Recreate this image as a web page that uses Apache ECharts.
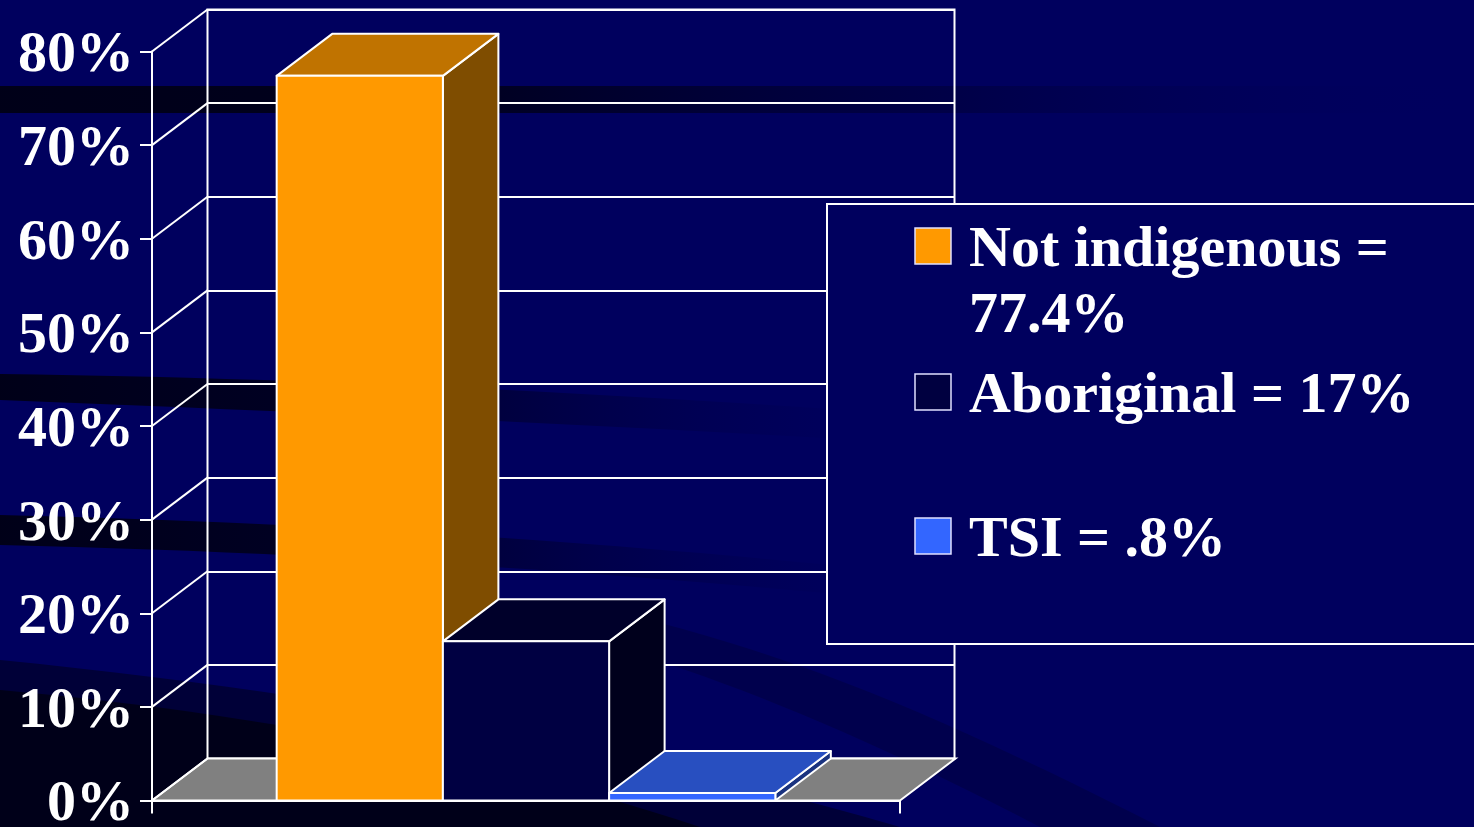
<!DOCTYPE html>
<html>
<head>
<meta charset="utf-8">
<script src="https://cdn.jsdelivr.net/npm/echarts@6/dist/echarts.min.js"></script>
<style>
html,body{margin:0;padding:0;background:#00005e;}
#chart{width:1474px;height:827px;}
</style>
</head>
<body>
<div id="chart"></div>
<script>
// ---- data ----
const categories = [''];
const seriesNames = ['Not indigenous', 'Aboriginal', 'TSI'];
const seriesValues = [77.4, 17, 0.8];
const yTickValues = [0, 10, 20, 30, 40, 50, 60, 70, 80];

// ---- style / layout ----
const FONT = 'Liberation Serif';
const DX = 55.5, DY = -42;
const GAP = 1.5;
const faceColors = [
  { front: '#ff9900', top: '#c07300', side: '#7f4d00', swatch: '#ff9900' },
  { front: '#000042', top: '#00002a', side: '#00001c', swatch: '#000040' },
  { front: '#3366ff', top: '#284fc0', side: '#1a3380', swatch: '#3366ff' }
];
const front = { left: 152, top: 51.5, width: 748, height: 749 };
const back = { left: front.left + DX, top: front.top + DY, width: 747, height: 749 };

const fmt = v => String(v).replace(/^0\./, '.') + '%';

const chart = echarts.init(document.getElementById('chart'));

function fade(stops) {
  return new echarts.graphic.LinearGradient(0, 0, 1, 0, stops);
}
// sample a cubic bezier into points (decorative background shapes)
function bez(p0, p1, p2, p3, n) {
  const pts = [];
  for (let k = 0; k <= n; k++) {
    const t = k / n, u = 1 - t;
    pts.push([
      u*u*u*p0[0] + 3*u*u*t*p1[0] + 3*u*t*t*p2[0] + t*t*t*p3[0],
      u*u*u*p0[1] + 3*u*u*t*p1[1] + 3*u*t*t*p2[1] + t*t*t*p3[1]
    ]);
  }
  return pts;
}
function band(a, b) {
  return bez(a[0], a[1], a[2], a[3], 24).concat(bez(b[3], b[2], b[1], b[0], 24));
}

const bgElements = [
  { type: 'rect', z: -20, shape: { x: 0, y: 86, width: 1474, height: 27 },
    style: { fill: fade([{offset:0,color:'rgba(0,0,22,0.97)'},{offset:0.3,color:'rgba(0,0,22,0.9)'},{offset:0.65,color:'rgba(0,0,50,0.5)'},{offset:1,color:'rgba(0,0,94,0)'}]) } },
  { type: 'polygon', z: -20,
    shape: { points: band([[0,374],[300,378],[600,392],[960,418]], [[0,400],[300,412],[600,424],[960,446]]) },
    style: { fill: fade([{offset:0,color:'rgba(0,0,22,0.97)'},{offset:0.35,color:'rgba(0,0,22,0.8)'},{offset:1,color:'rgba(0,0,94,0)'}]) } },
  { type: 'polygon', z: -20,
    shape: { points: band([[0,515],[300,522],[600,540],[960,578]], [[0,545],[300,552],[600,570],[960,606]]) },
    style: { fill: fade([{offset:0,color:'rgba(0,0,22,0.97)'},{offset:0.35,color:'rgba(0,0,22,0.8)'},{offset:1,color:'rgba(0,0,94,0)'}]) } },
  { type: 'polygon', z: -20,
    shape: { points: bez([0,660],[300,690],[600,740],[900,827],24).concat([[0,827]]) },
    style: { fill: 'rgba(0,0,40,0.7)' } },
  { type: 'polygon', z: -19,
    shape: { points: bez([0,690],[250,712],[500,760],[700,827],24).concat([[0,827]]) },
    style: { fill: 'rgba(0,0,20,0.85)' } },
  { type: 'polygon', z: -20,
    shape: { points: band([[560,600],[760,640],[920,705],[1160,827]], [[560,632],[700,668],[850,728],[1040,827]]) },
    style: { fill: 'rgba(0,0,45,0.35)' } }
];

// legend
const LFS = 58;
const legendItemTop = [218, 364, 508];
const legendElements = [
  { type: 'rect', z: 50, shape: { x: 827, y: 204, width: 700, height: 440 },
    style: { fill: '#00005e', stroke: '#ffffff', lineWidth: 2 } }
];
seriesNames.forEach((name, i) => {
  legendElements.push({ type: 'rect', z: 51,
    shape: { x: 915, y: legendItemTop[i] + 33 - 5 - 18, width: 36, height: 36 },
    style: { fill: faceColors[i].swatch, stroke: '#e0e0ff', lineWidth: 1.5 } });
  legendElements.push({ type: 'text', z: 51, x: 969, y: legendItemTop[i],
    style: { text: name + ' = ' + fmt(seriesValues[i]), fill: '#ffffff', font: 'bold ' + LFS + 'px "' + FONT + '"',
      width: 460, overflow: 'break', lineHeight: 66, verticalAlign: 'top', align: 'left' } });
});

const option = {
  backgroundColor: '#00005e',
  animation: false,
  grid: [
    { left: front.left, top: front.top, width: front.width, height: front.height, show: false,
      containLabel: false, outerBoundsMode: 'none' },
    { left: back.left, top: back.top, width: back.width, height: back.height, show: true,
      containLabel: false, outerBoundsMode: 'none',
      borderColor: '#ffffff', borderWidth: 2, backgroundColor: 'transparent' }
  ],
  xAxis: [
    { type: 'category', gridIndex: 0, data: categories, boundaryGap: true,
      axisLine: { show: true, lineStyle: { color: '#ffffff', width: 2 } },
      axisTick: { show: true, length: 13, lineStyle: { color: '#ffffff', width: 2 } },
      axisLabel: { show: false }, splitLine: { show: false } },
    { type: 'category', gridIndex: 1, data: categories, show: false }
  ],
  yAxis: [
    { type: 'value', gridIndex: 0, min: 0, max: 80, interval: 10,
      axisLine: { show: true, lineStyle: { color: '#ffffff', width: 2 } },
      axisTick: { show: true, length: 12, lineStyle: { color: '#ffffff', width: 2 } },
      splitLine: { show: false },
      axisLabel: { color: '#ffffff', fontFamily: FONT, fontWeight: 'bold', fontSize: 58, margin: 18,
        verticalAlign: 'top', lineHeight: 10, formatter: '{value}%' } },
    { type: 'value', gridIndex: 1, min: 0, max: 80, interval: 10,
      axisLine: { show: false }, axisTick: { show: false }, axisLabel: { show: false },
      splitLine: { show: true, lineStyle: { color: '#ffffff', width: 2 } } }
  ],
  graphic: { elements: bgElements.concat(legendElements) },
  series: [
    {
      type: 'custom', name: 'walls', xAxisIndex: 0, yAxisIndex: 0, z: 2,
      data: yTickValues.map(v => [0, v]),
      encode: { x: 0, y: 1 },
      renderItem: function (params, api) {
        const cs = params.coordSys;
        const xL = cs.x, xR = cs.x + cs.width;
        const y = api.coord([0, api.value(1)])[1];
        const children = [];
        if (api.value(1) === 0) {
          children.push({ type: 'polygon',
            shape: { points: [[xL, y], [xL + DX, y + DY], [xR + DX, y + DY], [xR, y]] },
            style: { fill: '#808080', stroke: '#ffffff', lineWidth: 2 } });
        }
        children.push({ type: 'line', shape: { x1: xL, y1: y, x2: xL + DX, y2: y + DY },
          style: { stroke: '#ffffff', lineWidth: 2 } });
        return { type: 'group', children: children };
      }
    },
    {
      type: 'custom', name: 'bars', xAxisIndex: 0, yAxisIndex: 0, z: 3,
      data: seriesValues.map((v, i) => [0, v, i]),
      encode: { x: 0, y: 1 },
      renderItem: function (params, api) {
        const i = api.value(2), v = api.value(1);
        const base = api.coord([0, 0]);
        const topP = api.coord([0, v]);
        const bandW = api.size([1, 0])[0];
        const n = seriesValues.length;
        const bw = bandW / (n + GAP);
        const x0 = base[0] - bandW / 2 + bw * GAP / 2 + i * bw;
        const x1 = x0 + bw;
        const yb = base[1], yt = topP[1];
        const c = faceColors[i];
        const st = { stroke: '#ffffff', lineWidth: 2, lineJoin: 'round' };
        return { type: 'group', children: [
          { type: 'polygon', shape: { points: [[x1, yt], [x1 + DX, yt + DY], [x1 + DX, yb + DY], [x1, yb]] },
            style: Object.assign({ fill: c.side }, st) },
          { type: 'polygon', shape: { points: [[x0, yt], [x1, yt], [x1 + DX, yt + DY], [x0 + DX, yt + DY]] },
            style: Object.assign({ fill: c.top }, st) },
          { type: 'rect', shape: { x: x0, y: yt, width: bw, height: yb - yt },
            style: Object.assign({ fill: c.front }, st) }
        ] };
      }
    }
  ]
};
chart.setOption(option);
</script>
</body>
</html>
